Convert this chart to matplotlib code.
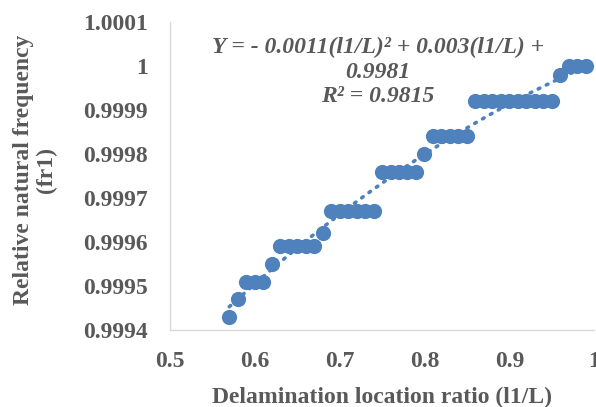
import numpy as np
import matplotlib
matplotlib.use('Agg')
import matplotlib.pyplot as plt

# delamination location ratio and relative natural frequency
ratio = [0.57, 0.58, 0.59, 0.60, 0.61, 0.62, 0.63, 0.64, 0.65, 0.66, 0.67,
         0.68, 0.69, 0.70, 0.71, 0.72, 0.73, 0.74, 0.75, 0.76, 0.77, 0.78,
         0.79, 0.80, 0.81, 0.82, 0.83, 0.84, 0.85, 0.86, 0.87, 0.88, 0.89,
         0.90, 0.91, 0.92, 0.93, 0.94, 0.95, 0.96, 0.97, 0.98, 0.99]
freq = [0.99943, 0.99947, 0.99951, 0.99951, 0.99951, 0.99955,
        0.99959, 0.99959, 0.99959, 0.99959, 0.99959,
        0.99962,
        0.99967, 0.99967, 0.99967, 0.99967, 0.99967, 0.99967,
        0.99976, 0.99976, 0.99976, 0.99976, 0.99976,
        0.99980,
        0.99984, 0.99984, 0.99984, 0.99984, 0.99984,
        0.99992, 0.99992, 0.99992, 0.99992, 0.99992,
        0.99992, 0.99992, 0.99992, 0.99992, 0.99992,
        0.99998,
        1.0, 1.0, 1.0]
xticks = [0.5, 0.6, 0.7, 0.8, 0.9, 1.0]
xtick_labels = ['0.5', '0.6', '0.7', '0.8', '0.9', '1']
yticks = [0.9994, 0.9995, 0.9996, 0.9997, 0.9998, 0.9999, 1.0, 1.0001]
ytick_labels = ['0.9994', '0.9995', '0.9996', '0.9997', '0.9998', '0.9999', '1', '1.0001']

blue = '#4f81bd'
grey = '#595959'
plt.rcParams['font.family'] = ['Liberation Serif', 'DejaVu Serif']

fig = plt.figure(figsize=(5.96, 4.07), dpi=100)
ax = fig.add_axes([0.285, 0.189, 0.712, 0.757])

x = np.array(ratio)
y = np.array(freq)
ax.scatter(x, y, s=120, color=blue, zorder=3, linewidths=0)

# 2nd order polynomial trendline
coef = np.polyfit(x, y, 2)
xs = np.linspace(x.min(), x.max(), 200)
ax.plot(xs, np.polyval(coef, xs), color=blue, lw=2.6, linestyle=(0, (0.5, 2.0)),
        dash_capstyle='round', zorder=2)

ax.set_xlim(0.5, 1.0)
ax.set_ylim(0.9994, 1.0001)
ax.set_xticks(xticks)
ax.set_xticklabels(xtick_labels)
ax.set_yticks(yticks)
ax.set_yticklabels(ytick_labels)
ax.tick_params(length=0, labelsize=17, labelcolor=grey)
ax.tick_params(axis='y', pad=16)
ax.tick_params(axis='x', pad=15)
for lab in ax.get_xticklabels() + ax.get_yticklabels():
    lab.set_fontweight('bold')

for s in ['top', 'right']:
    ax.spines[s].set_visible(False)
for s in ['left', 'bottom']:
    ax.spines[s].set_color('#d9d9d9')
    ax.spines[s].set_linewidth(1.0)

fig.text(382 / 596, 1 - 397 / 407, 'Delamination location ratio (l1/L)',
         ha='center', va='center', fontsize=17, fontweight='bold', color=grey)
fig.text(35 / 596, 1 - 170 / 407, 'Relative natural frequency\n(fr1)', rotation=90,
         ha='center', va='center', fontsize=17, fontweight='bold', color=grey,
         linespacing=1.12)

fig.text(378 / 596, 1 - 72 / 407,
         'Y = - 0.0011(l1/L)² + 0.003(l1/L) +\n0.9981\nR² = 0.9815',
         ha='center', va='center', fontsize=17, fontweight='bold', style='italic',
         color=grey, linespacing=1.22)

fig.savefig('out.png', dpi=100)
